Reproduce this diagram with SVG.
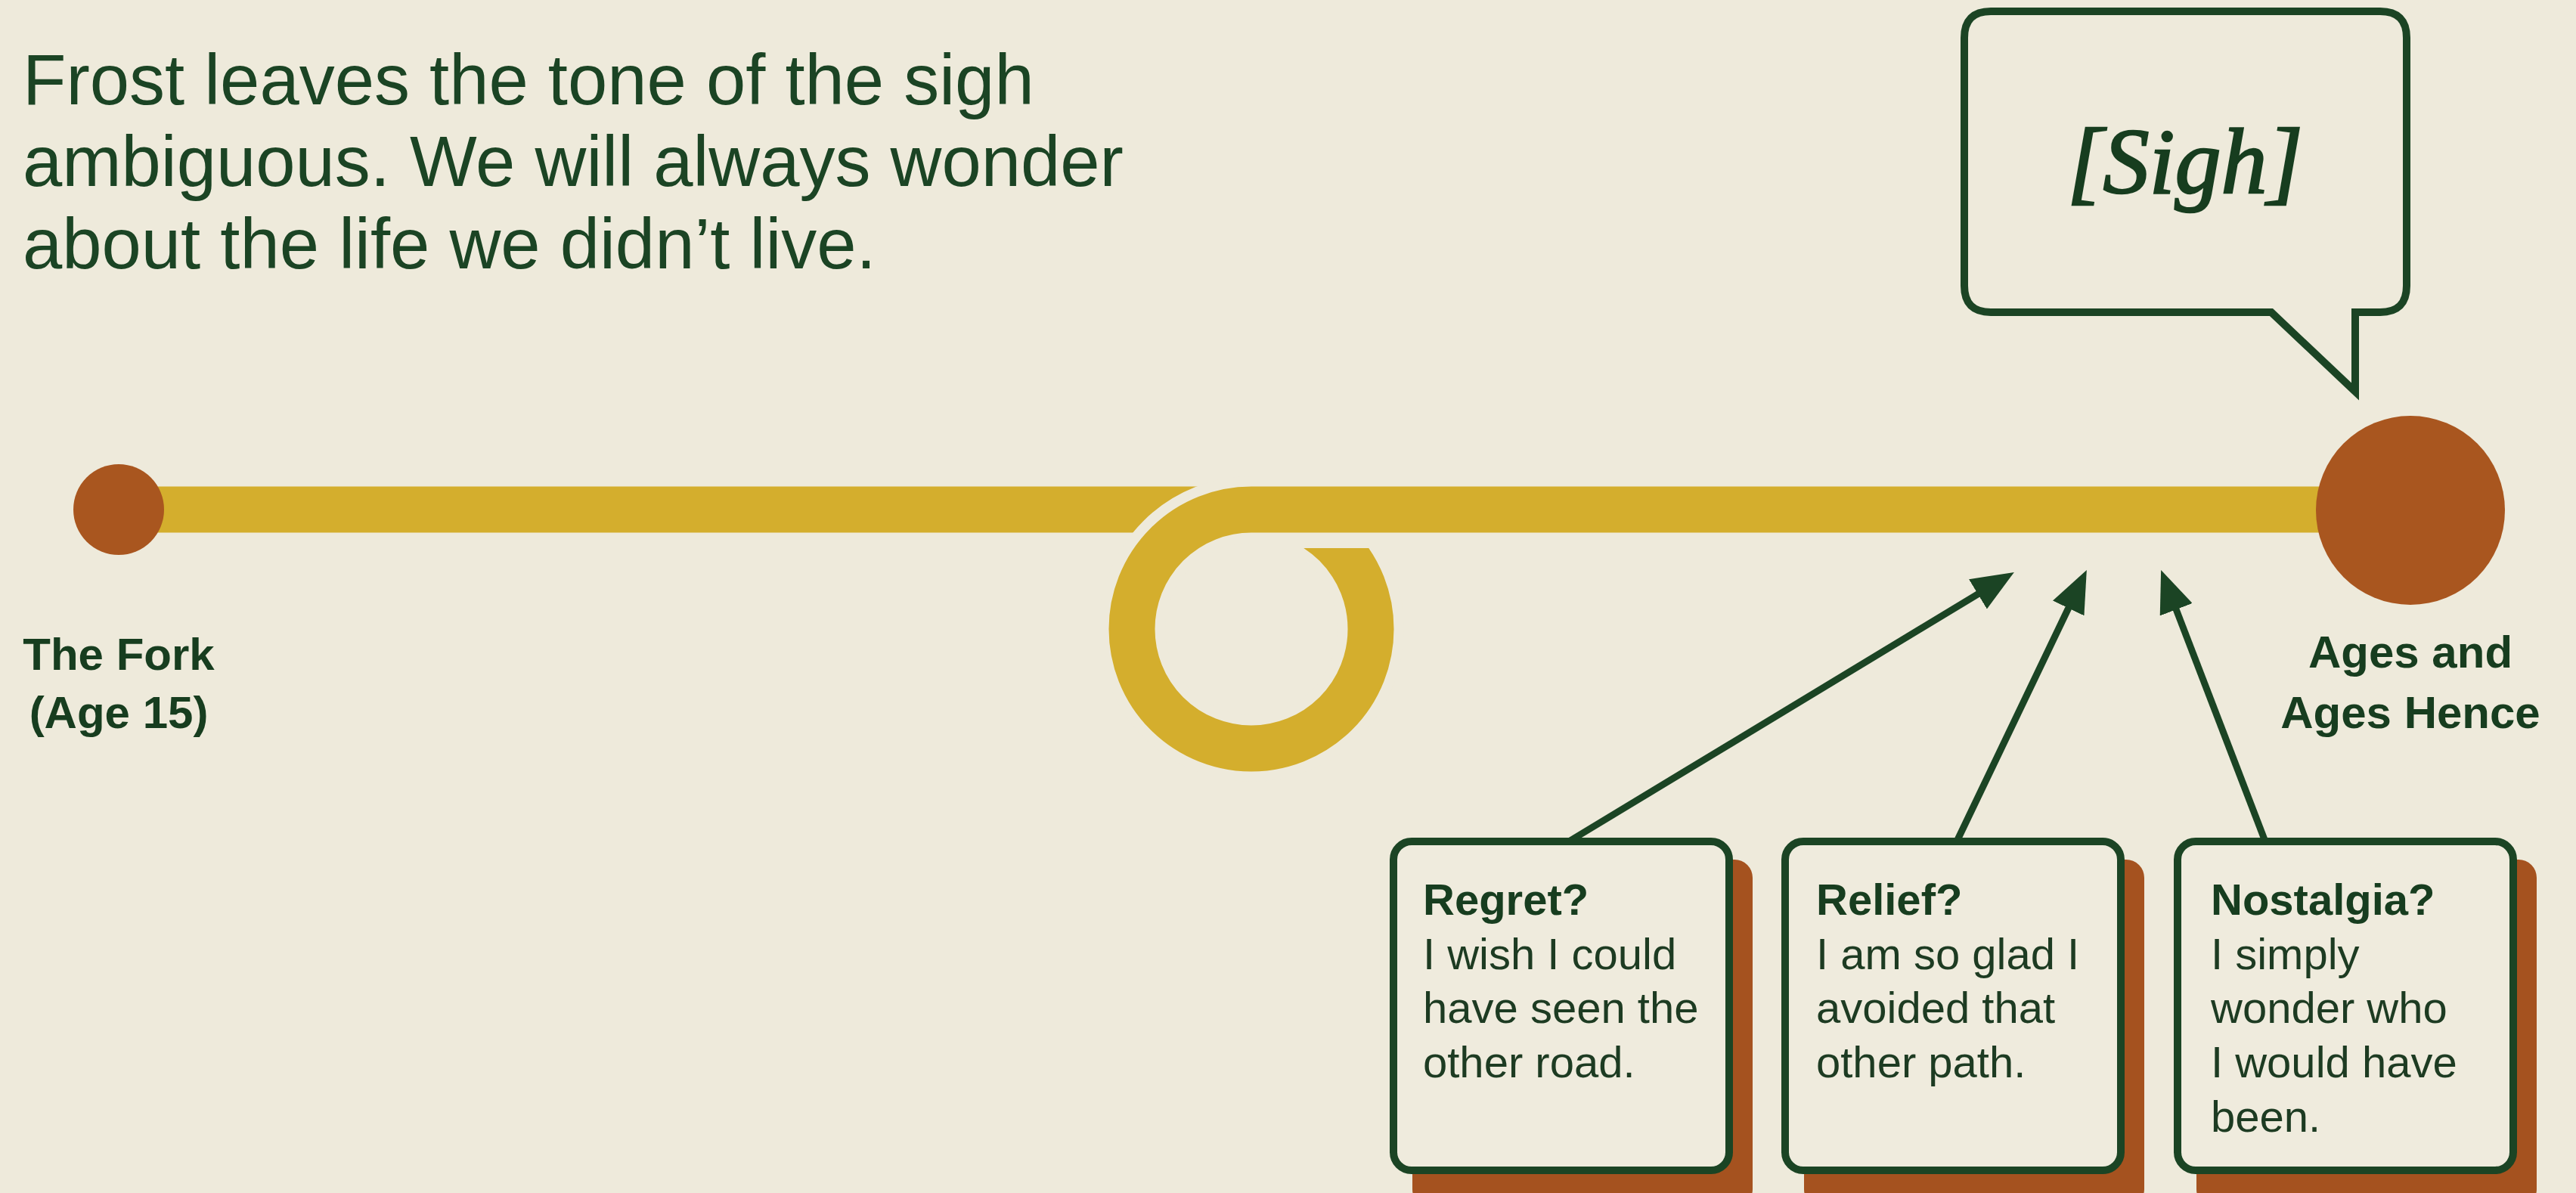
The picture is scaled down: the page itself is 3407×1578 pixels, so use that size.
<svg xmlns="http://www.w3.org/2000/svg" width="3407" height="1578" viewBox="0 0 3407 1578">
<style>
.title{font-family:"Liberation Sans",Arial,sans-serif;font-size:94px;fill:#1b4424}
.lbl{font-family:"Liberation Sans",Arial,sans-serif;font-size:60px;font-weight:bold;fill:#173d1f;text-anchor:middle}
.bh{font-family:"Liberation Sans",Arial,sans-serif;font-size:58px;font-weight:bold;fill:#173d1f}
.bt{font-family:"Liberation Sans",Arial,sans-serif;font-size:58px;fill:#1d3b22}
.sigh{font-family:"Liberation Serif","Times New Roman",serif;font-style:italic;font-size:122px;fill:#173d1f;stroke:#173d1f;stroke-width:2.5;text-anchor:middle}
.road{fill:none;stroke:#d4ae2d;stroke-width:61}
.card{fill:#efebdd;stroke:#1b4424;stroke-width:10}
.shadow{fill:#a5521f}
.arrow{fill:none;stroke:#1b4424;stroke-width:9}
</style>
<defs>
<marker id="ah" markerUnits="userSpaceOnUse" markerWidth="56" markerHeight="46" refX="26" refY="23" orient="auto">
<path d="M0,0 L56,23 L0,46 Z" fill="#1b4424"/>
</marker>
<clipPath id="loopclip">
<polygon points="1420,600 1655,600 1655,725 1880,725 1880,1060 1420,1060"/>
</clipPath>
</defs>
<rect width="3407" height="1578" fill="#eeeadb"/>

<g id="title">
<text class="title" x="30" y="138">Frost leaves the tone of the sigh</text>
<text class="title" x="30" y="246">ambiguous. We will always wonder</text>
<text class="title" x="30" y="355">about the life we didn’t live.</text>
</g>

<g id="road">
<line class="road" x1="157" y1="674" x2="1600" y2="674"/>
<circle cx="1655" cy="832" r="158" fill="none" stroke="#eeeadb" stroke-width="88" clip-path="url(#loopclip)"/>
<circle class="road" cx="1655" cy="832" r="158" clip-path="url(#loopclip)"/>
<line class="road" x1="1655" y1="674" x2="3188" y2="674"/>
</g>

<g id="node-fork">
<circle cx="157" cy="674" r="60" fill="#a9561f"/>
<text class="lbl" x="157" y="886">The Fork</text>
<text class="lbl" x="157" y="963">(Age 15)</text>
</g>

<g id="node-ages">
<circle cx="3188" cy="675" r="125" fill="#a9561f"/>
<text class="lbl" x="3188" y="883">Ages and</text>
<text class="lbl" x="3188" y="963">Ages Hence</text>
</g>

<g id="node-sigh">
<path d="M2633 15 H3148 Q3183 15 3183 50 V378 Q3183 413 3148 413 H3115 V518 L3004 413 H2633 Q2598 413 2598 378 V50 Q2598 15 2633 15 Z" fill="none" stroke="#1b4424" stroke-width="10"/>
<text class="sigh" x="2890" y="255">[Sigh]</text>
</g>

<g id="connectors">
<line class="arrow" x1="2075" y1="1113" x2="2638.2" y2="772.4" marker-end="url(#ah)"/>
<line class="arrow" x1="2588" y1="1113" x2="2746.9" y2="781" marker-end="url(#ah)"/>
<line class="arrow" x1="2996" y1="1113" x2="2868.9" y2="782" marker-end="url(#ah)"/>
</g>

<g id="node-regret">
<rect class="shadow" x="1868" y="1137" width="450" height="460" rx="24"/>
<rect class="card" x="1843" y="1113" width="444" height="435" rx="24"/>
<text class="bh" x="1882" y="1210">Regret?</text>
<text class="bt" x="1882" y="1282">I wish I could</text>
<text class="bt" x="1882" y="1353">have seen the</text>
<text class="bt" x="1882" y="1425">other road.</text>
</g>

<g id="node-relief">
<rect class="shadow" x="2386" y="1137" width="450" height="460" rx="24"/>
<rect class="card" x="2361" y="1113" width="444" height="435" rx="24"/>
<text class="bh" x="2402" y="1210">Relief?</text>
<text class="bt" x="2402" y="1282">I am so glad I</text>
<text class="bt" x="2402" y="1353">avoided that</text>
<text class="bt" x="2402" y="1425">other path.</text>
</g>

<g id="node-nostalgia">
<rect class="shadow" x="2905" y="1137" width="450" height="460" rx="24"/>
<rect class="card" x="2880" y="1113" width="444" height="435" rx="24"/>
<text class="bh" x="2924" y="1210">Nostalgia?</text>
<text class="bt" x="2924" y="1282">I simply</text>
<text class="bt" x="2924" y="1353">wonder who</text>
<text class="bt" x="2924" y="1425">I would have</text>
<text class="bt" x="2924" y="1497">been.</text>
</g>
</svg>
